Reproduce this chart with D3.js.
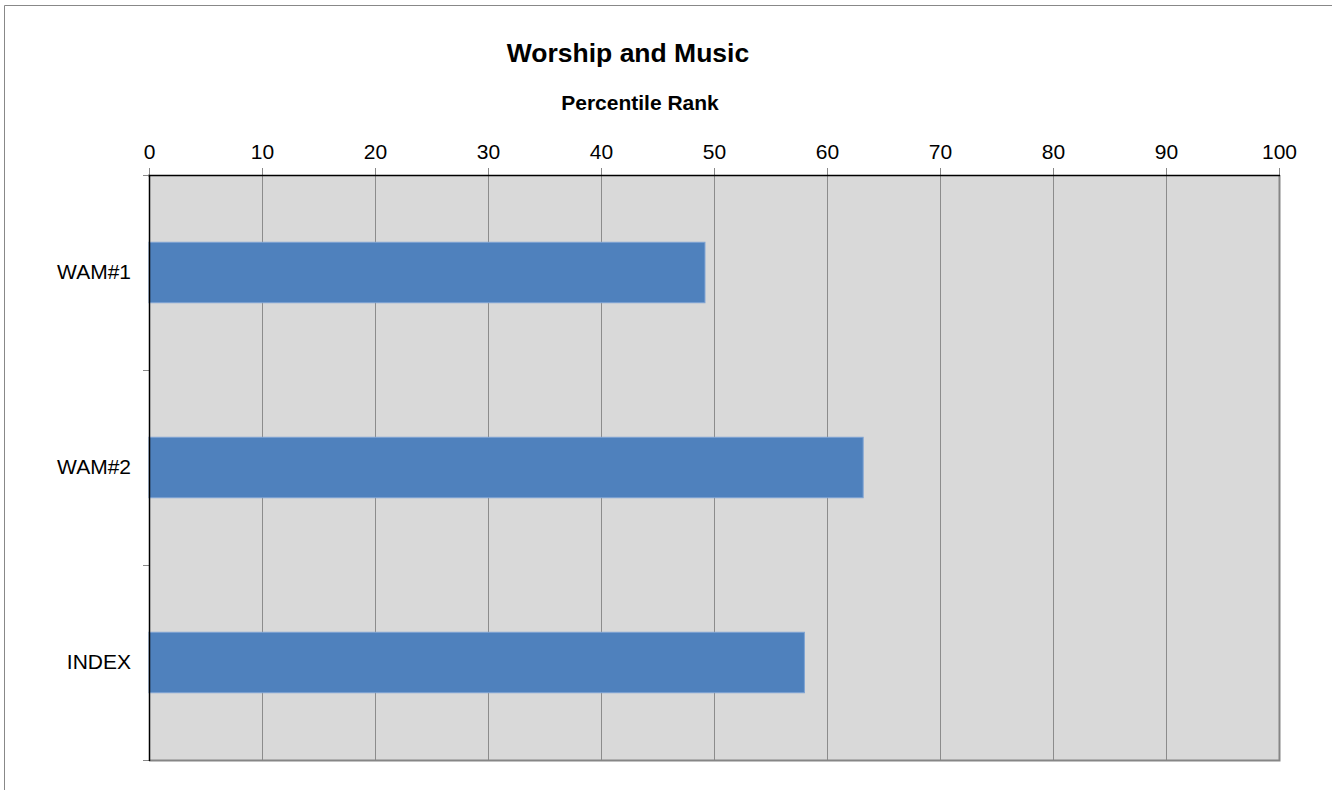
<!DOCTYPE html>
<html><head><meta charset="utf-8">
<script src="https://cdn.jsdelivr.net/npm/d3@7"></script>
<style>body{margin:0;background:#fff}svg{display:block}text{font-family:"Liberation Sans",Arial,sans-serif}</style>
</head><body><svg id="c" width="1332" height="790"></svg>
<script>
const categories = ["WAM#1", "WAM#2", "INDEX"];
const values = [49.2, 63.2, 58.0];
const xTicks = [0,10,20,30,40,50,60,70,80,90,100];
const title = "Worship and Music";
const axisTitle = "Percentile Rank";

const svg = d3.select("#c");
const L = 149, R = 1279, T = 175, B = 760;
const x = d3.scaleLinear().domain([0,100]).range([L,R]);
const y = d3.scaleBand().domain(categories).range([T,B]).paddingInner(0.69).paddingOuter(0.345);
const yb = d3.scaleBand().domain(categories).range([T,B]);

// outer border
svg.append("path").attr("d",`M4.5,790 V5.5 H1332`).attr("fill","none").attr("stroke","#888").attr("stroke-width",1);

// plot bg
svg.append("rect").attr("x",L).attr("y",T).attr("width",R-L).attr("height",B-T).attr("fill","#d9d9d9");

// gridlines
svg.append("g").selectAll("line").data(xTicks.slice(1,-1)).join("line")
  .attr("x1",d=>Math.round(x(d))+0.5).attr("x2",d=>Math.round(x(d))+0.5).attr("y1",T).attr("y2",B)
  .attr("stroke","#8c8c8c").attr("stroke-width",1);

// bars
svg.append("g").selectAll("rect").data(categories).join("rect")
  .attr("x",x(0)).attr("y",d=>y(d)).attr("width",(d,i)=>x(values[i])-x(0)).attr("height",y.bandwidth())
  .attr("fill","#4f81bd").attr("stroke","#7ea3d3").attr("stroke-width",1);

// right/bottom gray border
svg.append("path").attr("d",`M${L},${B+0.5} H${R+0.5} V${T}`).attr("fill","none").attr("stroke","#868686").attr("stroke-width",2);

// top axis
const xa = svg.append("g").attr("transform",`translate(0,${T})`)
  .call(d3.axisTop(x).tickValues(xTicks).tickSize(7).tickPadding(9).tickFormat(d3.format("d")));
xa.select(".domain").remove();
xa.selectAll(".tick line").attr("stroke","#888");
xa.selectAll("text").attr("font-size",21).attr("fill","#000");
svg.append("line").attr("x1",L-1).attr("x2",R+1).attr("y1",T+0.5).attr("y2",T+0.5).attr("stroke","#000").attr("stroke-width",1.5);

// left axis
const ya = svg.append("g").attr("transform",`translate(${L},0)`)
  .call(d3.axisLeft(yb).tickSize(0).tickPadding(18));
ya.select(".domain").remove();
ya.selectAll("text").attr("font-size",21).attr("fill","#000");
const bTicks = [T, ...categories.map(c=>yb(c)+yb.bandwidth())];
svg.append("g").selectAll("line").data(bTicks).join("line")
  .attr("x1",L-6).attr("x2",L).attr("y1",d=>Math.round(d)+0.5).attr("y2",d=>Math.round(d)+0.5).attr("stroke","#888");
svg.append("line").attr("x1",L+0.5).attr("x2",L+0.5).attr("y1",T).attr("y2",B+1).attr("stroke","#000").attr("stroke-width",1.5);

// titles
svg.append("text").attr("x",628).attr("y",62).attr("text-anchor","middle").attr("font-size",26.5).attr("font-weight","bold").text(title);
svg.append("text").attr("x",640).attr("y",110).attr("text-anchor","middle").attr("font-size",21).attr("font-weight","bold").text(axisTitle);
</script></body></html>
